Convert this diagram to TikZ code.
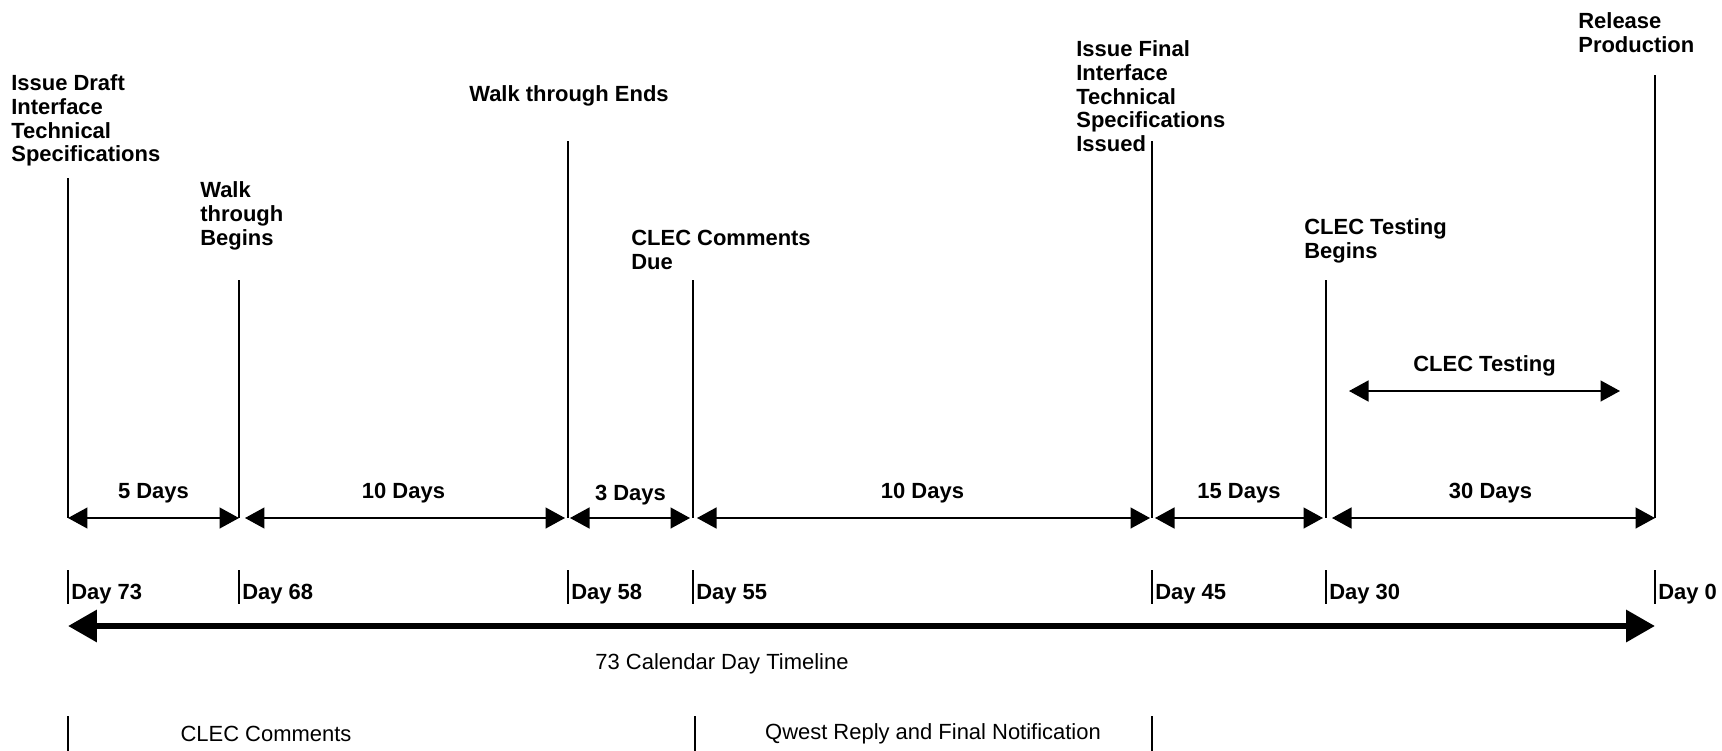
\documentclass[tikz,border=0pt]{standalone}
\usepackage{fontspec}
\setmainfont{Liberation Sans}
\usetikzlibrary{arrows.meta}

\begin{document}
\begin{tikzpicture}[x=0.02cm,y=-0.02cm]
\tikzstyle{every node}+=[inner sep=0pt]
\tikzstyle{lbl}=[font=\bfseries\fontsize{12.5}{13.6}\selectfont, align=left, anchor=north west]
\tikzstyle{boldtext}=[font=\bfseries\fontsize{12.5}{13.6}\selectfont]
\tikzstyle{plaintext}=[font=\fontsize{12.5}{13.6}\selectfont]
\tikzstyle{thin}=[black, line width=0.8pt]
\tikzstyle{dayspan}=[black, line width=0.8pt, {Triangle[length=0.39cm,width=0.42cm]}-{Triangle[length=0.39cm,width=0.42cm]}]
\tikzstyle{bigline}=[black, line width=0.13cm, {Triangle[length=0.58cm,width=0.62cm]}-{Triangle[length=0.58cm,width=0.62cm]}]
\useasboundingbox (0,0) rectangle (1722,751);
\foreach \x/\t/\d in {68/178/73, 239/280/68, 568/141/58, 693/280/55, 1152/141/45, 1326/280/30, 1655/75/0} {
  \coordinate (top\d) at (\x,\t);
  \coordinate (m\d) at (\x,518);
  \draw [thin] (top\d) -- (m\d);
  \coordinate (tk\d) at (\x,570);
  \coordinate (tb\d) at (\x,604);
  \draw [thin] (tk\d) -- (tb\d);
  \node [boldtext, anchor=west] (day\d) at (\x+3,594) {Day \d};
}
\node [lbl] (draft) at (11,74) {Issue Draft\\Interface\\Technical\\Specifications};
\node [lbl] (wbegin) at (200,181) {Walk\\through\\Begins};
\node [lbl] (wend) at (469,85) {Walk through Ends};
\node [lbl] (due) at (631,230) {CLEC Comments\\Due};
\node [lbl] (final) at (1076,40) {Issue Final\\Interface\\Technical\\Specifications\\Issued};
\node [lbl] (tbegin) at (1304,218) {CLEC Testing\\Begins};
\node [lbl] (release) at (1578,12) {Release\\Production};
\draw [dayspan] (m73) -- (m68) node [boldtext, midway, yshift=0.5cm] (s5) {5 Days};
\draw [dayspan, shorten <=0.12cm, shorten >=0.06cm] (m68) -- (m58) node [boldtext, midway, yshift=0.5cm] (s10a) {10 Days};
\draw [dayspan, shorten <=0.04cm, shorten >=0.06cm] (m58) -- (m55) node [boldtext, midway, yshift=0.45cm] (s3) {3 Days};
\draw [dayspan, shorten <=0.08cm, shorten >=0.04cm] (m55) -- (m45) node [boldtext, midway, yshift=0.5cm] (s10b) {10 Days};
\draw [dayspan, shorten <=0.06cm, shorten >=0.06cm] (m45) -- (m30) node [boldtext, midway, yshift=0.5cm] (s15) {15 Days};
\draw [dayspan, shorten <=0.12cm] (m30) -- (m0) node [boldtext, midway, yshift=0.5cm] (s30) {30 Days};
\coordinate (ctA) at (1349,391);
\coordinate (ctB) at (1620,391);
\draw [dayspan] (ctA) -- (ctB) node [boldtext, midway, yshift=0.5cm] (ctest) {CLEC Testing};
\coordinate (tlA) at (68,626);
\coordinate (tlB) at (1655,626);
\draw [bigline] (tlA) -- (tlB);
\node [plaintext] (cal) at (722,664) {73 Calendar Day Timeline};
\foreach \x/\n in {68/a, 695/b, 1152/c} {
  \coordinate (bt\n) at (\x,716);
  \coordinate (bb\n) at (\x,751);
  \draw [thin] (bt\n) -- (bb\n);
}
\node [plaintext] (ccom) at (266,734) {CLEC Comments};
\node [plaintext] (qwest) at (933,734) {Qwest Reply and Final Notification};
\end{tikzpicture}
\end{document}
